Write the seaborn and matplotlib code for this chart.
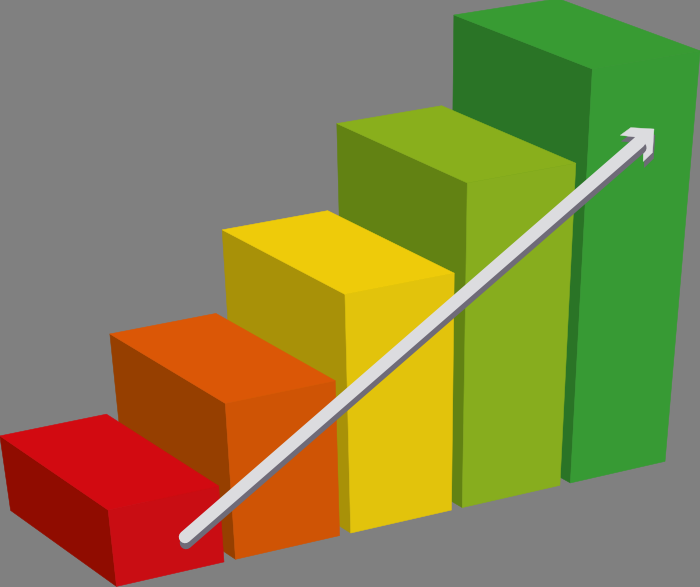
import numpy as np
import seaborn as sns
import matplotlib.pyplot as plt

# bar heights, front bar first
bar_values = [1, 2, 3, 4, 5]
top_colors = ['#D20A11', '#DB5706', '#EECB0A', '#89AF1C', '#389B33']
right_colors = ['#C90D13', '#CF5405', '#E2C30C', '#87AD1E', '#379A34']
left_colors = ['#900C00', '#963F00', '#A89108', '#628213', '#2A7426']

# trend arrow, tail to tip
arrow_x = [185, 654]
arrow_y = [537, 129]

# camera worked out from the picture: (row, depth, height) -> pixels
camera = np.array([
    [122.89301, -105.34892, -11.285273, 116.51176],
    [-17.899537, -49.502059, -90.113294, 586.44491],
    [0.01652869, 0.051961793, -0.026960359, 1.0],
])
bar_width = 0.9017


def project(row, depth, height):
    q = camera @ np.array([row, depth, height, 1.0])
    return q[0] / q[2], q[1] / q[2]


sns.set_theme(style='white', rc={'figure.facecolor': '#808080', 'axes.facecolor': '#808080'})
fig, ax = plt.subplots(figsize=(7, 5.87), dpi=100)
fig.subplots_adjust(0, 0, 1, 1)

# back bar first so that the nearer ones cover it
for i in reversed(range(len(bar_values))):
    h = bar_values[i]
    r = i + bar_width
    faces = [
        ([(i, 1, h), (i, 0, h), (i, 0, 0), (i, 1, 0)], left_colors[i]),
        ([(i, 0, h), (r, 0, h), (r, 0, 0), (i, 0, 0)], right_colors[i]),
        ([(i, 1, h), (r, 1, h), (r, 0, h), (i, 0, h)], top_colors[i]),
    ]
    for corners, col in faces:
        xy = np.array([project(*c) for c in corners])
        ax.fill(xy[:, 0], xy[:, 1], color=col, linewidth=0.4)

# arrow
tail = np.array([arrow_x[0], arrow_y[0]], float)
tip = np.array([arrow_x[1], arrow_y[1]], float)
d = (tip - tail) / np.linalg.norm(tip - tail)
n = np.array([-d[1], d[0]])
if n[1] < 0:
    n = -n
neck = tip - 19.5 * d
head = [(0, 0), (-16.6, 16.8), (-29.5, 17.4), (-19.5, 6.3), (-19.5, -6.3), (-29.5, -17.4), (-16.6, -16.3)]
head_xy = np.array([tip + a * d + p * n for a, p in head])
shift = np.array([1.0, 6.0])

for off, col in [(shift, '#6F6B78'), (np.zeros(2), '#DCDCDF')]:
    sns.lineplot(x=[tail[0] + off[0], neck[0] + off[0]], y=[tail[1] + off[1], neck[1] + off[1]],
                 color=col, linewidth=9, solid_capstyle='round', errorbar=None, ax=ax)
    ax.fill(head_xy[:, 0] + off[0], head_xy[:, 1] + off[1], color=col, linewidth=0.3)

ax.set_xlim(0, 700)
ax.set_ylim(587, 0)
ax.axis('off')
fig.savefig('out.png', dpi=100, facecolor=fig.get_facecolor())
